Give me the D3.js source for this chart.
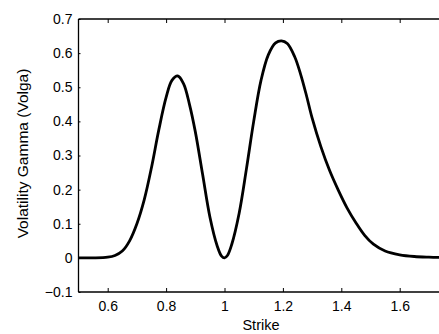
<!DOCTYPE html>
<html>
<head>
<meta charset="utf-8">
<script src="https://cdn.jsdelivr.net/npm/d3@7"></script>
<style>
  body { margin: 0; background: #fff; }
  svg { display: block; }
  text { font-family: "Liberation Sans", Arial, sans-serif; fill: #000; }
</style>
</head>
<body>
<div id="chart"></div>
<script>
const strike = [0.50, 0.55, 0.60, 0.625, 0.65, 0.675, 0.70, 0.725, 0.75, 0.775, 0.80, 0.82, 0.84, 0.86, 0.88, 0.90, 0.925, 0.95, 0.975, 0.99, 1.00, 1.01, 1.025, 1.05, 1.075, 1.10, 1.125, 1.15, 1.175, 1.195, 1.215, 1.24, 1.26, 1.28, 1.30, 1.33, 1.36, 1.39, 1.42, 1.45, 1.48, 1.51, 1.55, 1.60, 1.65, 1.70, 1.75];
const volga = [0, 0, 0.002, 0.007, 0.02, 0.05, 0.10, 0.17, 0.265, 0.375, 0.47, 0.52, 0.533, 0.51, 0.45, 0.37, 0.245, 0.12, 0.035, 0.005, 0, 0.007, 0.04, 0.13, 0.26, 0.40, 0.52, 0.595, 0.630, 0.636, 0.628, 0.59, 0.54, 0.478, 0.41, 0.326, 0.256, 0.198, 0.146, 0.103, 0.066, 0.04, 0.02, 0.009, 0.004, 0.002, 0.001];
const xTicks = [0.6, 0.8, 1, 1.2, 1.4, 1.6];
const yTicks = [-0.1, 0, 0.1, 0.2, 0.3, 0.4, 0.5, 0.6, 0.7];

const data = strike.map((s, i) => ({ s, v: volga[i] }));

const svg = d3.select('#chart').append('svg')
  .attr('width', 439)
  .attr('height', 334);

const margin = { left: 78.5, top: 19, bottom: 42 };
const height = 334 - margin.top - margin.bottom;
const width = 365; // plot runs past the right edge of the window

const x = d3.scaleLinear().domain([0.5, 1.75]).range([0, width]);
const y = d3.scaleLinear().domain([-0.1, 0.7]).range([height, 0]);

const g = svg.append('g')
  .attr('transform', `translate(${margin.left},${margin.top})`);

// bottom axis, ticks pointing in
const xAxis = g.append('g')
  .attr('transform', `translate(0,${height})`)
  .call(d3.axisBottom(x).tickValues(xTicks).tickSize(-4).tickPadding(9).tickFormat(d3.format('')));

// top axis, no labels
const xTop = g.append('g')
  .call(d3.axisTop(x).tickValues(xTicks).tickSize(-4).tickFormat(''));

const yAxis = g.append('g')
  .call(d3.axisLeft(y).tickValues(yTicks).tickSize(-2).tickPadding(6)
    .tickFormat(d => d < 0 ? '\u2212' + Math.abs(d) : d3.format('')(d)));

g.selectAll('.domain').attr('stroke', '#000').attr('stroke-width', 1.3);
g.selectAll('.tick line').attr('stroke', '#000').attr('stroke-width', 1);
g.selectAll('.tick text').style('font-size', '14px').attr('fill', '#000');
// replace axis paths with plain spines
xAxis.select('.domain').attr('d', `M0,0H${width}`);
xTop.select('.domain').attr('d', `M0,0H${width}`);
yAxis.select('.domain').attr('d', `M0,0V${height}`);

const line = d3.line()
  .x(d => x(d.s))
  .y(d => y(d.v))
  .curve(d3.curveCatmullRom.alpha(0.5));

g.append('path')
  .datum(data)
  .attr('fill', 'none')
  .attr('stroke', '#000')
  .attr('stroke-width', 2.8)
  .attr('stroke-linejoin', 'round')
  .attr('d', line);

svg.append('text')
  .attr('x', margin.left + x(1.125))
  .attr('y', 330)
  .attr('text-anchor', 'middle')
  .style('font-size', '14.5px')
  .text('Strike');

svg.append('text')
  .attr('transform', `translate(28,153.5) rotate(-90)`)
  .attr('text-anchor', 'middle')
  .style('font-size', '15.5px')
  .text('Volatility Gamma (Volga)');
</script>
</body>
</html>
